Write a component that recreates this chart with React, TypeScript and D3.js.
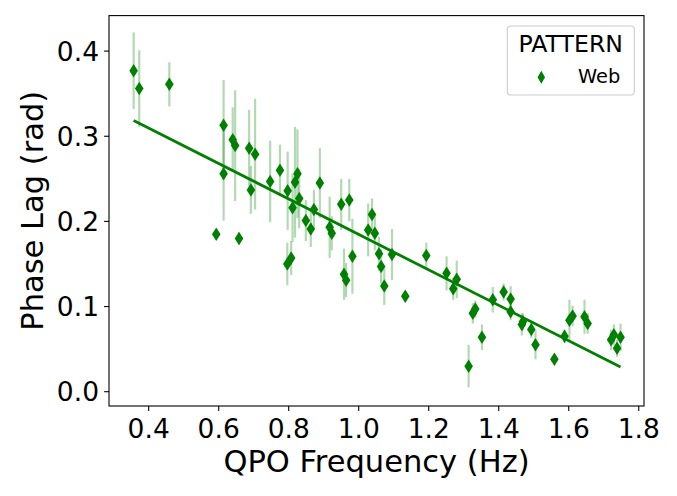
import React from 'react';
import * as d3 from 'd3';

// QPO frequency (Hz), phase lag (rad) and its error
const freq = [
  0.357, 0.373, 0.459, 0.593, 0.614, 0.614, 0.640, 0.647, 0.658, 0.687,
  0.692, 0.704, 0.747, 0.775, 0.797, 0.796, 0.807, 0.811, 0.818, 0.825,
  0.830, 0.849, 0.863, 0.872, 0.889, 0.917, 0.923, 0.950, 0.958, 0.964,
  0.973, 0.982, 1.027, 1.038, 1.046, 1.058, 1.064, 1.073, 1.095, 1.133,
  1.193, 1.251, 1.270, 1.280, 1.314, 1.326, 1.333, 1.352, 1.383, 1.414,
  1.434, 1.434, 1.466, 1.469, 1.493, 1.505, 1.559, 1.588, 1.602, 1.611,
  1.645, 1.654, 1.721, 1.729, 1.738, 1.748,
];
const lag = [
  0.377, 0.356, 0.361, 0.185, 0.313, 0.256, 0.296, 0.289, 0.180, 0.286,
  0.237, 0.279, 0.247, 0.260, 0.236, 0.150, 0.157, 0.216, 0.246, 0.256,
  0.227, 0.201, 0.191, 0.214, 0.245, 0.193, 0.186, 0.220, 0.138, 0.131,
  0.225, 0.159, 0.190, 0.208, 0.186, 0.162, 0.147, 0.124, 0.161, 0.112,
  0.160, 0.139, 0.121, 0.132, 0.030, 0.092, 0.097, 0.064, 0.108, 0.117,
  0.094, 0.109, 0.079, 0.082, 0.073, 0.055, 0.038, 0.065, 0.084, 0.089,
  0.088, 0.080, 0.061, 0.067, 0.051, 0.064,
];
const lagErr = [
  0.045, 0.045, 0.026, 0.006, 0.053, 0.055, 0.038, 0.065, 0.007, 0.045,
  0.028, 0.065, 0.048, 0.030, 0.046, 0.025, 0.020, 0.040, 0.065, 0.052,
  0.035, 0.024, 0.021, 0.023, 0.041, 0.036, 0.020, 0.030, 0.030, 0.020,
  0.025, 0.044, 0.031, 0.019, 0.020, 0.020, 0.020, 0.022, 0.030, 0.006,
  0.015, 0.020, 0.013, 0.022, 0.025, 0.012, 0.010, 0.015, 0.015, 0.010,
  0.010, 0.015, 0.013, 0.010, 0.010, 0.017, 0.006, 0.008, 0.024, 0.012,
  0.020, 0.012, 0.012, 0.012, 0.010, 0.016,
];

// linear fit drawn across the data
const fitSlope = -0.2082;
const fitIntercept = 0.3929;

const xTicks = [0.4, 0.6, 0.8, 1.0, 1.2, 1.4, 1.6, 1.8];
const yTicks = [0.0, 0.1, 0.2, 0.3, 0.4];
const legendTitle = 'PATTERN';
const seriesName = 'Web';

const width = 677;
const height = 496;
const margin = { top: 15.6, right: 33, bottom: 90, left: 109 };
const font = '"DejaVu Sans", sans-serif';
const green = '#008000';

const diamond = (w: number, h: number) =>
  `M0,${-h / 2}L${w / 2},0L0,${h / 2}L${-w / 2},0Z`;

const App = () => {
  const x = d3.scaleLinear().domain([0.2866, 1.815]).range([margin.left, width - margin.right]);
  const y = d3.scaleLinear().domain([-0.0168, 0.4417]).range([height - margin.bottom, margin.top]);
  const fmt = d3.format('.1f');

  const pts = freq.map((f, i) => ({ f, l: lag[i], e: lagErr[i] }));
  const [fMin, fMax] = d3.extent(freq) as [number, number];
  const fitLine = d3.line<number>()
    .x((f) => x(f))
    .y((f) => y(fitSlope * f + fitIntercept));

  const x0 = margin.left;
  const x1 = width - margin.right;
  const y0 = height - margin.bottom;
  const y1 = margin.top;

  return (
    <svg
      width={width}
      height={height}
      style={{ position: 'absolute', left: 0, top: 0, background: '#fff' }}
      fontFamily={font}
    >
      <g className="errorbars" stroke="rgba(0,128,0,0.3)" strokeWidth={2.2}>
        {pts.map((d, i) => (
          <line key={i} x1={x(d.f)} x2={x(d.f)} y1={y(d.l - d.e)} y2={y(d.l + d.e)} />
        ))}
      </g>
      <path d={fitLine([fMin, fMax]) || ''} stroke={green} strokeWidth={2.8} fill="none" />
      <g className="markers" fill={green}>
        {pts.map((d, i) => (
          <path key={i} d={diamond(8.6, 13.5)} transform={`translate(${x(d.f)},${y(d.l)})`} />
        ))}
      </g>

      <rect x={x0} y={y1} width={x1 - x0} height={y0 - y1} fill="none" stroke="#000" strokeWidth={1.1} />

      <g className="x-axis">
        {xTicks.map((t) => (
          <g key={t} transform={`translate(${x(t)},0)`}>
            <line y1={y0} y2={y0 + 4.9} stroke="#000" strokeWidth={1.1} />
            <text y={437.7} textAnchor="middle" fontSize={26.5}>{fmt(t)}</text>
          </g>
        ))}
        <text x={(x0 + x1) / 2} y={471.7} textAnchor="middle" fontSize={30.5}>
          QPO Frequency (Hz)
        </text>
      </g>

      <g className="y-axis">
        {yTicks.map((t) => (
          <g key={t} transform={`translate(0,${y(t)})`}>
            <line x1={x0 - 4.9} x2={x0} stroke="#000" strokeWidth={1.1} />
            <text x={99} y={9.6} textAnchor="end" fontSize={26.5}>{fmt(t)}</text>
          </g>
        ))}
        <text
          transform={`translate(43,${(y0 + y1) / 2}) rotate(-90)`}
          textAnchor="middle"
          fontSize={30.5}
        >
          Phase Lag (rad)
        </text>
      </g>

      <g className="legend">
        <rect x={507.3} y={26} width={127} height={69} rx={3.5} fill="#fff" fillOpacity={0.8} stroke="#cccccc" strokeWidth={1.1} />
        <text x={570.8} y={52.3} textAnchor="middle" fontSize={23.6}>{legendTitle}</text>
        <path d={diamond(7.5, 13)} fill={green} transform="translate(541.3,77.3)" />
        <text x={578} y={83.3} fontSize={19.4}>{seriesName}</text>
      </g>
    </svg>
  );
};

export default App;
